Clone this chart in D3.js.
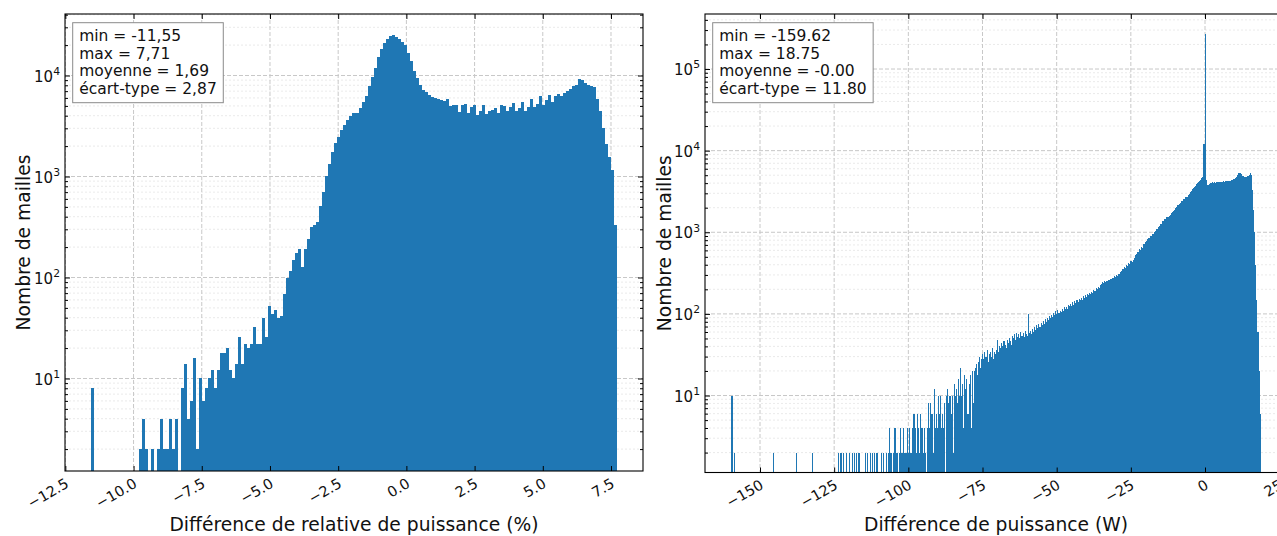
<!DOCTYPE html>
<html><head><meta charset="utf-8">
<script src="https://cdn.jsdelivr.net/npm/d3@7"></script>
<style>
body{margin:0;background:#fff;}
svg{display:block;font-family:"DejaVu Sans","Liberation Sans",sans-serif;}
</style></head><body>
<svg id="chart" width="1277" height="536"></svg>
<script>
// ---------- DATA ----------
const leftMin = -11.55, leftMax = 7.71;
const leftCounts = [
 8,0,0,0,0,0,0,0,0,0,
 0,0,0,0,0,0,2,4,2,0,
 2,0,2,4,2,2,4,2,4,0,
 8,14,4,6,16,2,10,6,8,10,
 12,8,12,18,18,20,12,10,14,26,
 14,22,20,22,32,22,22,40,26,52,
 44,48,40,42,68,98,115,150,175,190,
 128,190,240,318,330,357,514,708,1018,1330,
 1760,2160,2480,2885,3235,3625,4000,4225,4300,4735,
 5510,6270,7925,9600,11950,15350,18150,20840,22980,24610,
 25180,24220,22800,21610,20050,16600,13930,11080,9370,8050,
 7180,6910,6410,6170,6000,5900,5700,5650,5850,4950,
 5050,5150,4350,5100,5200,4250,4900,5100,4100,4500,
 5150,4150,4500,4600,4800,4250,5050,4950,4500,4900,
 5300,4500,4800,5500,4450,4900,5800,4900,5200,6200,
 5100,5700,6400,5500,6200,6500,6300,6700,7000,7300,
 7800,8100,9300,9000,8500,8000,7850,7700,5800,4500,
 3000,2100,1550,1150,330
];
const leftStats = ["min = -11,55", "max = 7,71", "moyenne = 1,69", "écart-type = 2,87"];
const leftXTicks = [-12.5, -10, -7.5, -5, -2.5, 0, 2.5, 5, 7.5];
const leftXTickLabels = ["\u221212.5","\u221210.0","\u22127.5","\u22125.0","\u22122.5","0.0","2.5","5.0","7.5"];
const leftYExponents = [1, 2, 3, 4];

const rightMin = -159.62, rightMax = 18.75;
const rightCounts = [
 10,0,2,0,0,0,0,0,0,0,
 0,0,0,0,0,0,0,0,0,0,
 0,0,0,0,0,0,0,0,0,0,
 0,0,0,0,0,0,0,0,0,2,
 0,0,0,0,0,0,0,0,0,0,
 0,0,0,0,0,0,0,0,0,0,
 0,2,0,0,0,0,0,0,0,0,
 0,0,0,0,0,0,2,0,0,0,
 0,0,0,0,0,0,0,0,0,0,
 0,0,0,0,0,0,0,0,0,0,
 0,2,0,2,0,2,0,0,2,0,
 0,2,0,0,2,0,2,0,2,0,
 2,0,0,0,0,0,2,0,2,0,
 0,2,0,2,0,2,0,2,0,0,
 0,2,0,2,0,0,2,0,2,4,
 2,2,0,2,4,2,2,0,2,4,
 2,2,4,2,2,2,4,2,4,2,
 2,4,6,4,2,6,4,2,6,4,
 4,2,4,2,0,4,8,4,8,6,
 2,12,4,6,4,10,6,10,4,6,
 4,8,0,10,12,8,10,6,10,2,
 14,10,12,8,16,10,22,10,14,4,
 18,12,16,6,14,18,4,20,8,20,
 22,24,18,26,30,22,28,32,28,34,
 30,36,26,32,34,30,38,28,34,32,
 36,48,34,40,38,44,40,46,42,38,
 48,44,50,46,42,54,50,56,48,58,
 52,56,50,60,54,58,52,62,56,54,
 100,58,62,56,66,60,70,64,74,68,
 76,70,78,74,82,76,86,80,90,84,
 94,88,98,92,102,96,108,100,112,104,
 110,106,116,110,120,114,122,116,128,124,
 132,126,138,130,142,136,146,140,152,146,
 156,150,164,158,170,162,176,170,182,176,
 188,182,196,190,206,200,216,210,226,232,
 244,238,250,246,256,250,262,258,270,264,
 278,290,284,300,292,312,306,330,338,356,
 350,376,370,398,390,420,410,444,430,462,
 480,530,545,580,575,620,612,660,650,710,
 715,770,780,830,840,890,900,955,960,1020,
 1030,1095,1110,1170,1190,1250,1280,1360,1380,1440,
 1460,1520,1540,1600,1620,1700,1750,1840,1900,2000,
 2050,2130,2170,2250,2300,2390,2440,2530,2580,2670,
 2720,2850,2950,3090,3200,3350,3470,3630,3740,3890,
 4010,4150,4290,4430,4580,4800,12000,265000,4400,3800,
 3750,3900,4000,4050,4080,4020,4100,4060,4120,4080,
 4150,4100,4180,4140,4200,4160,4230,4190,4260,4220,
 4300,4260,4350,4400,4450,4500,4600,4800,5100,5300,
 5300,5200,4950,4850,4800,4750,4800,4850,4900,5100,
 5250,5000,3300,1900,1000,400,150,60,20,6
];
const rightStats = ["min = -159.62", "max = 18.75", "moyenne = -0.00", "écart-type = 11.80"];
const rightXTicks = [-150, -125, -100, -75, -50, -25, 0, 25];
const rightXTickLabels = ["\u2212150","\u2212125","\u2212100","\u221275","\u221250","\u221225","0","25"];
const rightYExponents = [1, 2, 3, 4, 5];

// ---------- LAYOUT ----------
const BAR = "#1f77b4";
const svg = d3.select("#chart");
const defs = svg.append("defs");

const panels = [
  { counts: leftCounts, min: leftMin, max: leftMax, stats: leftStats,
    xTicks: leftXTicks, xTickLabels: leftXTickLabels, yExp: leftYExponents,
    x0: 65, x1: 643, y0: 14, y1: 471,
    xDomain: [-12.513, 8.673], yDomain: [Math.pow(10, 0.084), Math.pow(10, 4.609)],
    xLabel: "Différence de relative de puissance (%)", yLabel: "Nombre de mailles", yLabelX: 29.5 },
  { counts: rightCounts, min: rightMin, max: rightMax, stats: rightStats,
    xTicks: rightXTicks, xTickLabels: rightXTickLabels, yExp: rightYExponents,
    x0: 705, x1: 1287.1, y0: 14, y1: 472.5,
    xDomain: [-168.54, 27.67], yDomain: [Math.pow(10, 0.057), Math.pow(10, 5.674)],
    xLabel: "Différence de puissance (W)", yLabel: "Nombre de mailles", yLabelX: 670.5 }
];

function minorValues(dom) {
  const out = [];
  const lo = Math.floor(Math.log10(dom[0])), hi = Math.ceil(Math.log10(dom[1]));
  for (let e = lo; e <= hi; e++) for (let m = 2; m <= 9; m++) {
    const v = m * Math.pow(10, e);
    if (v >= dom[0] && v <= dom[1]) out.push(v);
  }
  return out;
}

panels.forEach((p, idx) => {
  const x = d3.scaleLinear().domain(p.xDomain).range([p.x0, p.x1]);
  const y = d3.scaleLog().domain(p.yDomain).range([p.y1, p.y0]);
  const clipId = "clip" + idx;
  defs.append("clipPath").attr("id", clipId).append("rect")
    .attr("x", p.x0).attr("y", p.y0).attr("width", p.x1 - p.x0).attr("height", p.y1 - p.y0);

  const g = svg.append("g");
  const grid = g.append("g").attr("clip-path", `url(#${clipId})`);
  const majorsY = p.yExp.map(e => Math.pow(10, e));
  const minorsY = minorValues(p.yDomain);

  grid.append("g").selectAll("line").data(minorsY).join("line")
    .attr("x1", p.x0).attr("x2", p.x1).attr("y1", d => y(d)).attr("y2", d => y(d))
    .attr("stroke", "#e4e4e4").attr("stroke-width", 0.8).attr("stroke-dasharray", "2,2");
  grid.append("g").selectAll("line").data(majorsY).join("line")
    .attr("x1", p.x0).attr("x2", p.x1).attr("y1", d => y(d)).attr("y2", d => y(d))
    .attr("stroke", "#c8c8c8").attr("stroke-width", 1).attr("stroke-dasharray", "4,2");
  grid.append("g").selectAll("line").data(p.xTicks).join("line")
    .attr("x1", d => x(d)).attr("x2", d => x(d)).attr("y1", p.y0).attr("y2", p.y1)
    .attr("stroke", "#c8c8c8").attr("stroke-width", 1).attr("stroke-dasharray", "4,2");

  // bars
  const n = p.counts.length, bw = (p.max - p.min) / n;
  const bins = p.counts.map((c, i) => ({ a: p.min + i * bw, b: p.min + (i + 1) * bw, c }))
    .filter(d => d.c > 0);
  g.append("g").attr("clip-path", `url(#${clipId})`)
    .selectAll("rect").data(bins).join("rect")
    .attr("x", d => x(d.a)).attr("width", d => x(d.b) - x(d.a))
    .attr("y", d => y(d.c)).attr("height", d => p.y1 - y(d.c))
    .attr("fill", BAR).attr("shape-rendering", "crispEdges");

  // axes
  const styleAxis = sel => {
    sel.attr("font-family", null).attr("font-size", null);
    sel.select(".domain").remove();
    sel.selectAll(".tick line").attr("stroke", "#000").attr("stroke-width", 1);
  };
  const gxb = g.append("g").attr("transform", `translate(0,${p.y1})`)
    .call(d3.axisBottom(x).tickValues(p.xTicks).tickSizeInner(-5).tickSizeOuter(0)
      .tickFormat((d, i) => p.xTickLabels[i]));
  styleAxis(gxb);
  gxb.selectAll(".tick text").attr("y", 0).attr("dy", null).attr("x", 0)
    .attr("text-anchor", "end").attr("fill", "#111").attr("font-size", 14.5)
    .attr("transform", "translate(4,15.5) rotate(-30)");

  const gxt = g.append("g").attr("transform", `translate(0,${p.y0})`)
    .call(d3.axisTop(x).tickValues(p.xTicks).tickSizeInner(-5).tickSizeOuter(0).tickFormat(""));
  styleAxis(gxt);

  const gyl = g.append("g").attr("transform", `translate(${p.x0},0)`)
    .call(d3.axisLeft(y).tickValues(majorsY).tickSizeInner(-5).tickSizeOuter(0).tickFormat(""));
  styleAxis(gyl);
  gyl.selectAll(".tick").each(function (d, i) {
    const t = d3.select(this).append("text").attr("x", -5).attr("y", 0).attr("dy", "0.37em")
      .attr("text-anchor", "end").attr("fill", "#111").attr("font-size", 15);
    t.append("tspan").text("10");
    t.append("tspan").attr("dy", "-0.62em").attr("font-size", "0.72em").text(p.yExp[i]);
  });
  const gylm = g.append("g").attr("transform", `translate(${p.x0},0)`)
    .call(d3.axisLeft(y).tickValues(minorsY).tickSizeInner(-3).tickSizeOuter(0).tickFormat(""));
  styleAxis(gylm);

  const gyr = g.append("g").attr("transform", `translate(${p.x1},0)`)
    .call(d3.axisRight(y).tickValues(majorsY).tickSizeInner(-5).tickSizeOuter(0).tickFormat(""));
  styleAxis(gyr);
  const gyrm = g.append("g").attr("transform", `translate(${p.x1},0)`)
    .call(d3.axisRight(y).tickValues(minorsY).tickSizeInner(-3).tickSizeOuter(0).tickFormat(""));
  styleAxis(gyrm);

  // spines
  g.append("rect").attr("x", p.x0).attr("y", p.y0).attr("width", p.x1 - p.x0).attr("height", p.y1 - p.y0)
    .attr("fill", "none").attr("stroke", "#000").attr("stroke-width", 1.1);

  // axis labels
  g.append("text").attr("x", (p.x0 + p.x1) / 2).attr("y", 531).attr("text-anchor", "middle")
    .attr("font-size", 18.7).attr("fill", "#111").text(p.xLabel);
  g.append("text").attr("transform", `translate(${p.yLabelX},${(p.y0 + p.y1) / 2}) rotate(-90)`)
    .attr("text-anchor", "middle").attr("font-size", 18.7).attr("fill", "#111").text(p.yLabel);

  // stats box
  const sg = g.append("g");
  const bx = p.x0 + 7.7, by = 22.7;
  const box = sg.append("rect").attr("fill", "#fff").attr("stroke", "#8a8a8a").attr("stroke-width", 1);
  const texts = sg.selectAll("text").data(p.stats).join("text")
    .attr("x", bx + 6.5).attr("y", (d, i) => 40.7 + i * 17.8)
    .attr("font-size", 15.5).attr("fill", "#111").text(d => d);
  const w = d3.max(texts.nodes(), nd => nd.getComputedTextLength());
  box.attr("x", bx).attr("y", by).attr("width", w + 13).attr("height", 80);
});
</script>
</body></html>
